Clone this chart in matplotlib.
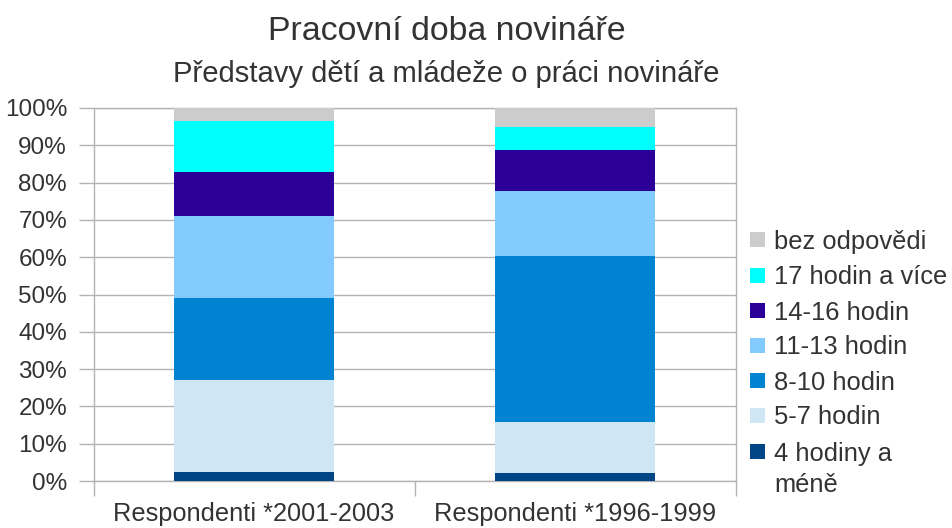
import matplotlib
matplotlib.use("Agg")
import matplotlib.pyplot as plt
from matplotlib.patches import Rectangle
import numpy as np

plt.rcParams['font.family'] = ['Liberation Sans', 'DejaVu Sans']

categories = ["Respondenti *2001-2003", "Respondenti *1996-1999"]
series_labels = ["4 hodiny a\nméně", "5-7 hodin", "8-10 hodin", "11-13 hodin",
                 "14-16 hodin", "17 hodin a více", "bez odpovědi"]
series_colors = ["#004586", "#cfe7f5", "#0084d1", "#83caff", "#2a0099", "#00ffff", "#cccccc"]
values_2001 = [2.5, 24.7, 21.8, 22.0, 11.8, 13.7, 3.5]
values_1996 = [2.2, 13.7, 44.4, 17.4, 11.0, 6.2, 5.1]
yticks = [0, 10, 20, 30, 40, 50, 60, 70, 80, 90, 100]
ytick_labels = [f"{v}%" for v in yticks]

W, H = 952, 528
fig = plt.figure(figsize=(W / 100, H / 100), dpi=100)
ax = fig.add_axes([93.5 / W, 1 - 481 / H, (735.5 - 93.5) / W, (481 - 108) / H])

data = np.array([values_2001, values_1996])
totals = data.sum(axis=1, keepdims=True)
pct = data / totals * 100
x = np.arange(len(categories))
bottom = np.zeros(len(categories))
for i, (lab, col) in enumerate(zip(series_labels, series_colors)):
    ax.bar(x, pct[:, i], bottom=bottom, width=0.5, color=col, zorder=3, linewidth=0)
    bottom += pct[:, i]

grid_col = "#b3b3b3"
txt_col = "#333333"
ax.set_xlim(-0.5, len(categories) - 0.5)
ax.set_ylim(0, 100)
ax.set_yticks(yticks)
ax.set_yticklabels(ytick_labels)
ax.yaxis.grid(True, color=grid_col, linewidth=1, zorder=0)
ax.set_xticks(x)
ax.set_xticklabels(categories)
ax.set_xticks(np.arange(-0.5, len(categories)), minor=True)
ax.tick_params(axis='x', which='major', length=0, pad=15, labelsize=18.3, labelcolor=txt_col)
ax.tick_params(axis='x', which='minor', length=11, width=1, color=grid_col, direction='out')
ax.tick_params(axis='y', length=11, width=1, color=grid_col, direction='out', pad=8,
               labelsize=17.5, labelcolor=txt_col)
for s in ax.spines.values():
    s.set_color(grid_col)
    s.set_linewidth(1)

fig.text(447 / W, 1 - 31 / H, "Pracovní doba novináře", ha='center', va='center',
         fontsize=24.4, color=txt_col)
fig.text(446 / W, 1 - 74 / H, "Představy dětí a mládeže o práci novináře", ha='center', va='center',
         fontsize=21.1, color=txt_col)

# legend (reversed order), manual to match layout
leg_rows = [239, 275, 310, 345, 380, 415, 451]
for row_y, lab, col in zip(leg_rows, series_labels[::-1], series_colors[::-1]):
    fig.patches.append(Rectangle((749.5 / W, 1 - (row_y + 8) / H), 15.5 / W, 15.5 / H,
                                 transform=fig.transFigure, facecolor=col, edgecolor='none'))
    lines = lab.split("\n")
    for k, ln in enumerate(lines):
        fig.text(774 / W, 1 - (row_y + k * 32) / H, ln, ha='left', va='center_baseline',
                 fontsize=18.4, color=txt_col)

fig.savefig("out.png", dpi=100)
